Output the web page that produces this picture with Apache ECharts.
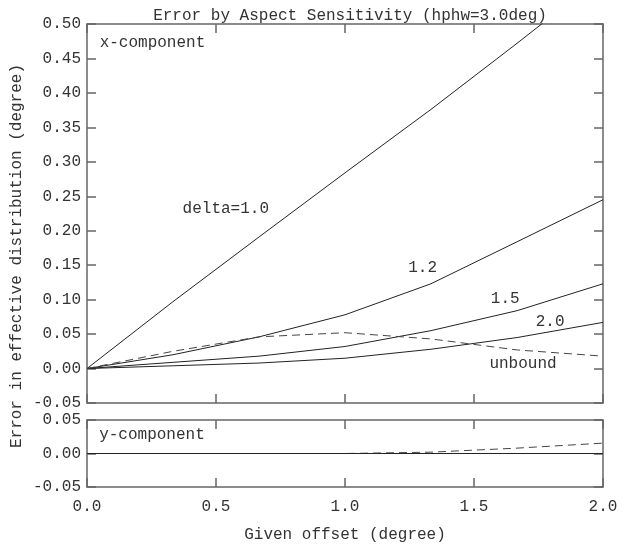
<!DOCTYPE html>
<html>
<head>
<meta charset="utf-8">
<script src="https://cdn.jsdelivr.net/npm/echarts@6/dist/echarts.min.js"></script>
<style>
  html, body { margin: 0; padding: 0; background: #fff; }
  #chart { width: 630px; height: 544px; }
</style>
</head>
<body>
<div id="chart"></div>
<script>
// given offset (degree)
var offsets = [0, 0.333, 0.667, 1.0, 1.333, 1.667, 2.0];
// x-component error per delta
var xDelta10 = [0, 0.097, 0.191, 0.284, 0.376, 0.472, 0.57];
var xDelta12 = [0, 0.020, 0.046, 0.078, 0.123, 0.184, 0.245];
var xDelta15 = [0, 0.009, 0.018, 0.032, 0.055, 0.084, 0.123];
var xDelta20 = [0, 0.004, 0.008, 0.015, 0.028, 0.045, 0.067];
var xUnbound = [0, 0.025, 0.046, 0.052, 0.043, 0.027, 0.018];
// y-component error
var yDelta = [0, 0, 0, 0, 0, 0, 0];
var yUnbound = [0, 0, 0, 0, 0.002, 0.008, 0.0155];
// labels drawn in the plot: [text, x, y, grid, align]
var notes = [
  ['x-component', 0.049, 0.473, 0, 'left'],
  ['delta=1.0', 0.538, 0.232, 0, 'center'],
  ['1.2', 1.301, 0.146, 0, 'center'],
  ['1.5', 1.621, 0.101, 0, 'center'],
  ['2.0', 1.795, 0.068, 0, 'center'],
  ['unbound', 1.69, 0.007, 0, 'center'],
  ['y-component', 0.047, 0.0285, 1, 'left']
];

var font = 'Liberation Mono';
var txt = '#333';
var axisCol = '#666';

function pairs (ys) {
  return offsets.map(function (x, i) { return [x, ys[i]] })
}

function xAx (grid, pos, labels) {
  return {
    type: 'value', gridIndex: grid, position: pos, min: 0, max: 2, interval: 0.5,
    axisLine: { show: true, onZero: false, lineStyle: { color: axisCol, width: 1.5 } },
    axisTick: { show: true, inside: true, length: 9, lineStyle: { color: axisCol, width: 1.5 } },
    axisLabel: { show: labels, margin: 12, color: txt, fontFamily: font, fontSize: 16,
      formatter: function (v) { return v.toFixed(1) } },
    splitLine: { show: false }
  }
}

function yAx (grid, pos, min, max, labels) {
  return {
    type: 'value', gridIndex: grid, position: pos, min: min, max: max, interval: 0.05,
    axisLine: { show: true, onZero: false, lineStyle: { color: axisCol, width: 1.5 } },
    axisTick: { show: true, inside: true, length: 9, lineStyle: { color: axisCol, width: 1.5 } },
    axisLabel: { show: labels, margin: 6, color: txt, fontFamily: font, fontSize: 16,
      formatter: function (v) { return v.toFixed(2) } },
    splitLine: { show: false }
  }
}

function line (data, xi, yi, dashed) {
  return {
    type: 'line', xAxisIndex: xi, yAxisIndex: yi, data: pairs(data),
    symbol: 'none', silent: true,
    lineStyle: { color: dashed ? '#444' : '#222', width: 1, type: dashed ? [8, 5] : 'solid' }
  }
}

var chart = echarts.init(document.getElementById('chart'))
var xBottom = xAx(1, 'bottom', true)
xBottom.name = 'Given offset (degree)'
xBottom.nameLocation = 'middle'
xBottom.nameGap = 40
xBottom.nameTextStyle = { color: txt, fontFamily: font, fontSize: 16 }

chart.setOption({
  animation: false,
  title: {
    text: 'Error by Aspect Sensitivity (hphw=3.0deg)',
    left: 345, top: 3, textAlign: 'center',
    textStyle: { color: txt, fontFamily: font, fontSize: 16, fontWeight: 'normal' }
  },
  grid: [
    { left: 87, right: 27, top: 24, height: 379 },
    { left: 87, right: 27, top: 420, height: 69 }
  ],
  xAxis: [
    xAx(0, 'bottom', false), xAx(0, 'top', false),
    xBottom, xAx(1, 'top', false)
  ],
  yAxis: [
    yAx(0, 'left', -0.05, 0.5, true), yAx(0, 'right', -0.05, 0.5, false),
    yAx(1, 'left', -0.05, 0.05, true), yAx(1, 'right', -0.05, 0.05, false)
  ],
  series: [
    line(xDelta10, 0, 0, false),
    line(xDelta12, 0, 0, false),
    line(xDelta15, 0, 0, false),
    line(xDelta20, 0, 0, false),
    line(xUnbound, 0, 0, true),
    line(yUnbound, 2, 2, true),
    line(yDelta, 2, 2, false)
  ]
})

// texts placed from data coordinates
var graphics = notes.map(function (n) {
  var p = chart.convertToPixel({ gridIndex: n[3] }, [n[1], n[2]])
  return {
    type: 'text', x: p[0], y: p[1],
    style: { text: n[0], fill: txt, font: '16px "' + font + '"', align: n[4], verticalAlign: 'middle' }
  }
})
graphics.push({
  type: 'text', x: 17, y: 256, rotation: Math.PI / 2,
  style: { text: 'Error in effective distribution (degree)', fill: txt,
    font: '16px "' + font + '"', align: 'center', verticalAlign: 'middle' }
})
chart.setOption({ graphic: graphics })
</script>
</body>
</html>
